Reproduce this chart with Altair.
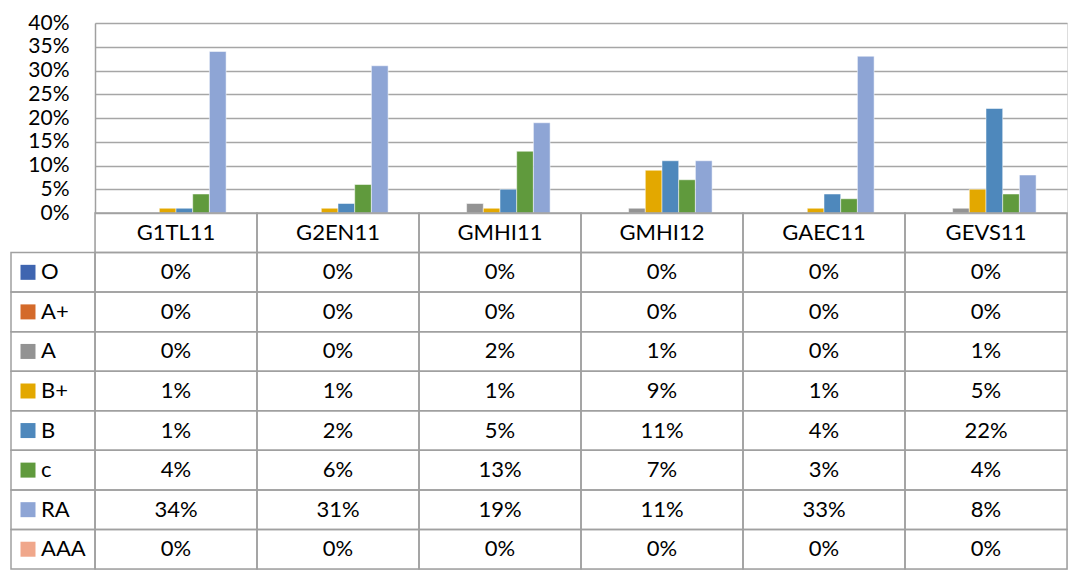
import altair as alt
import pandas as pd

categories = ["G1TL11", "G2EN11", "GMHI11", "GMHI12", "GAEC11", "GEVS11"]
series = ["O", "A+", "A", "B+", "B", "c", "RA", "AAA"]
colors = ["#3F65B0", "#D46A2A", "#939393", "#E3A800", "#4E88BC", "#609A3D", "#8EA5D5", "#F0A78B"]

# percent values per series, in category order
val_O = [0, 0, 0, 0, 0, 0]
val_Aplus = [0, 0, 0, 0, 0, 0]
val_A = [0, 0, 2, 1, 0, 1]
val_Bplus = [1, 1, 1, 9, 1, 5]
val_B = [1, 2, 5, 11, 4, 22]
val_c = [4, 6, 13, 7, 3, 4]
val_RA = [34, 31, 19, 11, 33, 8]
val_AAA = [0, 0, 0, 0, 0, 0]

values = [val_O, val_Aplus, val_A, val_Bplus, val_B, val_c, val_RA, val_AAA]

rows = []
for s, vals in zip(series, values):
    for c, v in zip(categories, vals):
        rows.append({"cat": c, "series": s, "row": s, "value": v / 100.0, "label": f"{v}%"})
df = pd.DataFrame(rows)
hdr = pd.DataFrame({"cat": categories, "row": ["hdr"] * len(categories), "label": categories})
cells = pd.concat([df[["cat", "row", "label"]], hdr], ignore_index=True)
legend_df = pd.DataFrame({"series": series, "row": series})

FONT = "Lato"
FS = 22
AXFS = 21
GRID = "#A6A6A6"
LINE = "#A0A0A0"

x_scale = alt.Scale(domain=categories, paddingInner=0, paddingOuter=0)
row_domain = ["hdr"] + series
row_scale = alt.Scale(domain=row_domain, range=[190, 546], paddingInner=0, paddingOuter=0)
color_scale = alt.Scale(domain=series, range=colors)

bars = alt.Chart(df).transform_filter("datum.value > 0").mark_bar(
    stroke="white", strokeWidth=0.5
).encode(
    x=alt.X("cat:N", scale=x_scale, axis=None, sort=categories),
    xOffset=alt.XOffset("series:N", scale=alt.Scale(domain=series, paddingOuter=0.85, paddingInner=0)),
    y=alt.Y("value:Q", scale=alt.Scale(domain=[0, 0.4], range=[190, 0], nice=False),
            axis=alt.Axis(values=[0, 0.05, 0.1, 0.15, 0.2, 0.25, 0.3, 0.35, 0.4], format=".0%",
                          title=None, grid=True, gridColor=GRID, gridWidth=1.5,
                          ticks=False, tickSize=0, domain=True, domainColor=LINE, domainWidth=1.5,
                          labelFont=FONT, labelFontSize=AXFS, labelColor="black", labelPadding=26)),
    color=alt.Color("series:N", scale=color_scale, legend=None),
)

cell_rects = alt.Chart(cells).mark_rect(filled=False, stroke=LINE, strokeWidth=1.5).encode(
    x=alt.X("cat:N", scale=x_scale, axis=None),
    y=alt.Y("row:N", scale=row_scale, axis=None),
)

cell_text = alt.Chart(cells).mark_text(font=FONT, fontSize=FS, color="black", baseline="middle").encode(
    x=alt.X("cat:N", scale=x_scale, axis=None),
    y=alt.Y("row:N", scale=row_scale, axis=None),
    text="label:N",
)

legend_rects = alt.Chart(legend_df).mark_rect(filled=False, stroke=LINE, strokeWidth=1.5).encode(
    x=alt.value(-84), x2=alt.value(0),
    y=alt.Y("row:N", scale=row_scale, axis=None),
)

swatches = alt.Chart(legend_df).mark_square(size=225, opacity=1).encode(
    x=alt.value(-67),
    y=alt.Y("row:N", scale=row_scale, axis=None),
    color=alt.Color("series:N", scale=color_scale, legend=None),
)

legend_text = alt.Chart(legend_df).mark_text(font=FONT, fontSize=FS, color="black",
                                              align="left", baseline="middle").encode(
    x=alt.value(-54),
    y=alt.Y("row:N", scale=row_scale, axis=None),
    text="series:N",
)

chart = alt.layer(bars, cell_rects, cell_text, legend_rects, swatches, legend_text).resolve_scale(
    y="independent"
).properties(
    width=972, height=546, padding={"left": 2, "top": 4, "right": 0, "bottom": 0}
).configure_view(strokeWidth=0).configure(background="white")

chart.save("out.html", embed_options={"renderer": "svg", "actions": False})
